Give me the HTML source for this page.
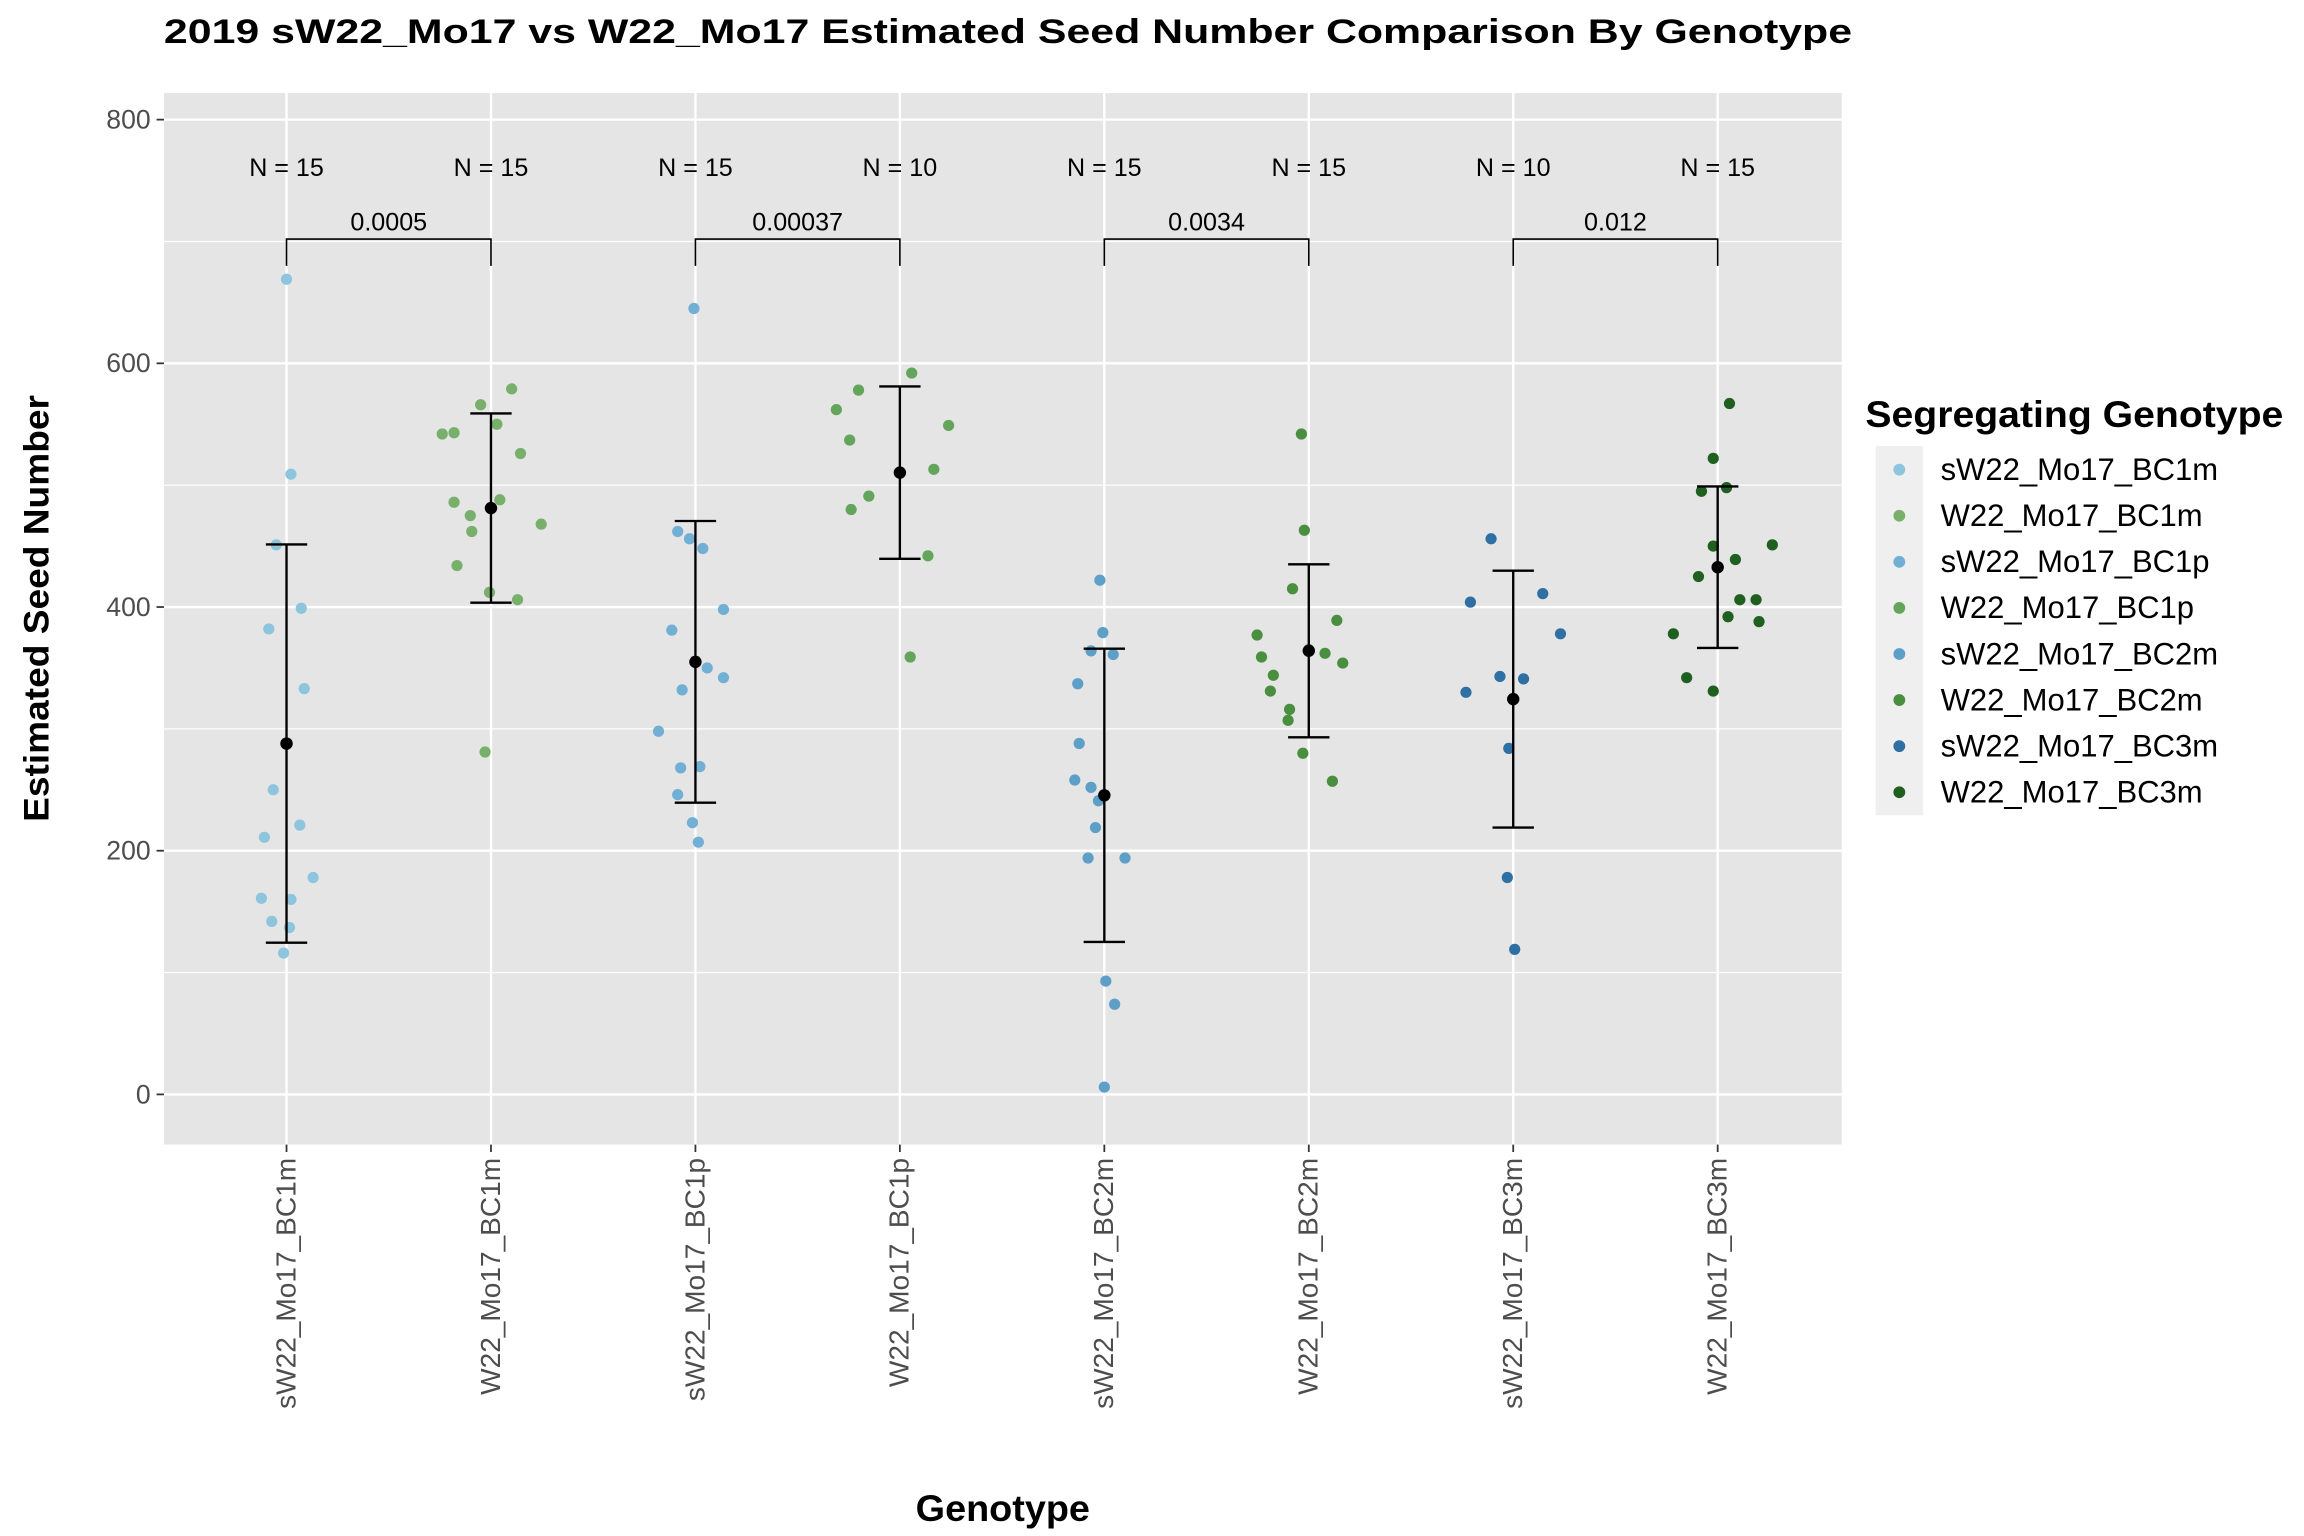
<!DOCTYPE html>
<html><head><meta charset="utf-8"><style>
html,body{margin:0;padding:0;background:#fff;}
svg{display:block;font-family:"Liberation Sans",Arial,sans-serif;}
</style></head><body>
<svg id="chart" width="2304" height="1536" viewBox="0 0 1560 1040" xmlns="http://www.w3.org/2000/svg">
<rect x="111" y="63" width="1136" height="712" fill="#e5e5e5"/>
<g id="grid"></g>
<g id="marks"></g>
<g id="axes"></g>
<text x="111" y="29" font-size="23" font-weight="bold" textLength="1143" lengthAdjust="spacingAndGlyphs">2019 sW22_Mo17 vs W22_Mo17 Estimated Seed Number Comparison By Genotype</text>
<text transform="translate(33,412) rotate(-90)" text-anchor="middle" font-size="24" font-weight="bold" textLength="289" lengthAdjust="spacingAndGlyphs">Estimated Seed Number</text>
<text x="679" y="1030" text-anchor="middle" font-size="25" font-weight="bold" textLength="118" lengthAdjust="spacingAndGlyphs">Genotype</text>
<g id="legend">
<text x="1263" y="289" font-size="25" font-weight="bold" textLength="283" lengthAdjust="spacingAndGlyphs">Segregating Genotype</text>
<rect x="1270" y="302" width="32" height="250" fill="#efefef"/>
</g>
</svg>
<script>
const categories=["sW22_Mo17_BC1m","W22_Mo17_BC1m","sW22_Mo17_BC1p","W22_Mo17_BC1p","sW22_Mo17_BC2m","W22_Mo17_BC2m","sW22_Mo17_BC3m","W22_Mo17_BC3m"];
const colors=["#8ec5de","#78b06b","#72afd4","#63a55a","#5e9fc8","#4a8f3f","#2e6fa4","#1f5f1f"];
const g1=[669,509,451,399,382,333,250,221,211,178,161,160,142,137,116];
const g2=[579,566,542,543,550,526,488,486,475,468,462,434,412,406,281];
const g3=[645,462,456,448,381,398,350,342,332,298,269,268,246,223,207];
const g4=[592,578,562,549,537,491,513,480,442,359];
const g5=[422,379,364,361,337,288,258,252,241,219,194,194,93,74,6];
const g6=[542,463,415,389,377,359,362,354,344,331,316,307,280,257,365];
const g7=[456,404,411,378,343,341,330,284,178,119];
const g8=[567,522,498,495,451,450,439,425,406,406,392,388,378,342,331];
const jitter=[[0,3,-7,10,-12,12,-9,9,-15,18,-17,3,-10,2,-2],[14,-7,-33,-25,4,20,6,-25,-14,34,-13,-23,-1,18,-4],[-1,-12,-4,5,-16,19,8,19,-9,-25,3,-10,-12,-2,2],[8,-28,-43,33,-34,-21,23,-33,19,7],[-3,-1,-9,6,-18,-17,-20,-9,-4,-6,-11,14,1,7,0],[-5,-3,-11,19,-35,-32,11,23,-24,-26,-13,-14,-4,16,0],[-15,-29,20,32,-9,7,-32,-3,-4,1],[8,-3,6,-11,37,-3,12,-13,15,26,7,28,-30,-21,-3]];
const groups=[g1,g2,g3,g4,g5,g6,g7,g8];
const nLabels=["N = 15","N = 15","N = 15","N = 10","N = 15","N = 15","N = 10","N = 15"];
const pvals=["0.0005","0.00037","0.0034","0.012"];
const yTicks=[0,200,400,600,800];
const yMinor=[100,300,500,700];
const NS="http://www.w3.org/2000/svg";
const y=v=>741-v*0.825;
const x=i=>194+i*138.43;
function mk(tag,attrs,parent){const e=document.createElementNS(NS,tag);for(const k in attrs)e.setAttribute(k,attrs[k]);parent.appendChild(e);return e;}
const grid=document.getElementById('grid'),marks=document.getElementById('marks'),axes=document.getElementById('axes'),legend=document.getElementById('legend');
yMinor.forEach(v=>{const l=mk('line',{x1:111,x2:1247,y1:y(v),y2:y(v),stroke:'#fff','stroke-width':0.8},grid);

});
yTicks.forEach(v=>{const l=mk('line',{x1:111,x2:1247,y1:y(v),y2:y(v),stroke:'#fff','stroke-width':1.6},grid);


const t=mk('line',{x1:106,x2:111,y1:y(v),y2:y(v),stroke:'#333','stroke-width':1.2},axes);


const tx=mk('text',{x:102,y:y(v)+6,'text-anchor':'end','font-size':18,fill:'#4d4d4d'},axes);tx.textContent=v;

});
categories.forEach((c,i)=>{const l=mk('line',{x1:x(i),x2:x(i),y1:63,y2:775,stroke:'#fff','stroke-width':1.6},grid);


const t=mk('line',{x1:x(i),x2:x(i),y1:775,y2:780,stroke:'#333','stroke-width':1.2},axes);


const tx=mk('text',{transform:`translate(${x(i)+6},784) rotate(-90)`,'text-anchor':'end','font-size':19,fill:'#4d4d4d'},axes);tx.textContent=c;


const n=mk('text',{x:x(i),y:119,'text-anchor':'middle','font-size':17},marks);n.textContent=nLabels[i];


const d=groups[i];
d.forEach((v,j)=>{const p=mk('circle',{cx:x(i)+jitter[i][j],cy:y(v),r:3.8,fill:colors[i]},marks);

});
const m=d.reduce((a,b)=>a+b,0)/d.length;
const sd=Math.sqrt(d.reduce((a,b)=>a+(b-m)*(b-m),0)/(d.length-1));
const eb=mk('path',{d:`M${x(i)-14},${y(m+sd)}H${x(i)+14}M${x(i)},${y(m+sd)}V${y(m-sd)}M${x(i)-14},${y(m-sd)}H${x(i)+14}`,stroke:'#000','stroke-width':1.6,fill:'none'},marks);


const mp=mk('circle',{cx:x(i),cy:y(m),r:4.2,fill:'#000'},marks);


const li=mk('circle',{cx:1286,cy:318+i*31.2,r:4,fill:colors[i]},legend);


const lt=mk('text',{x:1314,y:325+i*31.2,'font-size':21},legend);lt.textContent=c;

});
pvals.forEach((p,k)=>{const a=x(2*k),b=x(2*k+1);
const br=mk('path',{d:`M${a},${y(680)}V${y(702)}H${b}V${y(680)}`,stroke:'#000','stroke-width':1.1,fill:'none'},marks);


const t=mk('text',{x:(a+b)/2,y:156,'text-anchor':'middle','font-size':17},marks);t.textContent=p;

});
</script>
</body></html>
